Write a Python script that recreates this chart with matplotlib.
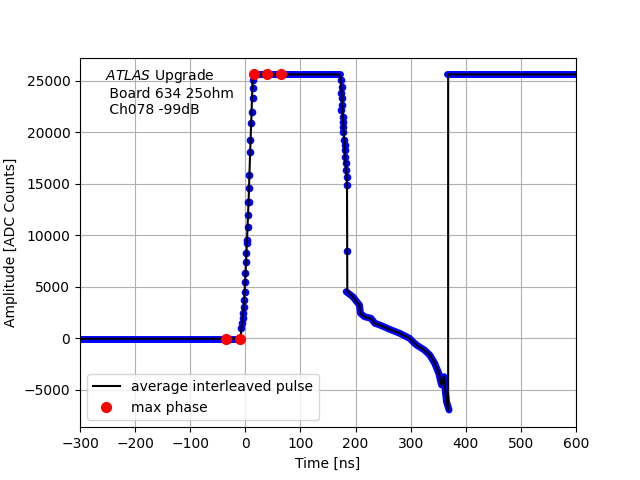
import numpy as np
import matplotlib
matplotlib.use('Agg')
import matplotlib.pyplot as plt

# average interleaved pulse (black line)
pulse_t = [-300, -9, -6, -3, 0, 3, 6, 9, 11, 13, 14,
           170, 173, 175, 177, 179, 181, 183, 184.5, 185,
           195, 207, 209, 216, 228, 235, 244, 262, 280, 298, 307, 312, 325, 334.5,
           343.6, 351, 356, 360.6, 363, 365, 368, 368, 600]
pulse_v = [-50, -50, 1500, 3000, 6000, 9500, 13500, 18500, 21500, 24800, 25620,
           25620, 25300, 23500, 21500, 19500, 17500, 16000, 14900, 4600,
           4000, 3200, 2400, 2100, 1900, 1450, 1280, 870, 490, 0, -490, -700, -1140, -1620,
           -2430, -3400, -4530, -3730, -5180, -6150, -7000, 25620, 25620]

# interleaved samples on the steep edges (blue dots)
edge_t = [-7.9, -6.6, -4.8, -3.6, -3.0, -1.8, -0.6, 0.0, 0.0, 1.2, 1.8, 2.4, 3.0,
          4.2, 4.3, 5.5, 6.1, 6.7, 7.3, 9.1, 9.1, 10.9, 12.1, 13.3, 13.3, 13.3,
          174, 175, 174, 175, 175, 174, 177, 178, 178, 177, 178.7, 180, 180,
          181.3, 181.8, 183, 185, 185, 184.5]
edge_v = [970, 1460, 1940, 2430, 3070, 3720, 4520, 5500, 6310, 7440, 8250, 9220, 9540,
          10840, 11970, 13260, 13260, 14560, 15850, 18120, 19250, 20870, 22000, 23300, 24270, 25080,
          25080, 24430, 23790, 23300, 22650, 22170, 21510, 21030, 20540, 20060, 19250, 18770, 18280,
          17630, 16990, 16340, 15690, 14880, 8500]

# dense sample bands (blue), flat parts and slow tail
base_t = [-300, -9]
base_v = [-60, -60]
top_t = [14, 171]
top_v = [25620, 25620]
tail_t = [183, 195, 207, 209, 216, 228, 235, 244, 262, 280, 298, 307, 312, 325, 334.5,
          343.6, 351, 356, 360.6, 363, 365, 369.7]
tail_v = [4530, 4040, 3230, 2430, 2100, 1940, 1460, 1290, 870, 490, 0, -490, -700, -1140, -1620,
          -2430, -3400, -4530, -3730, -5180, -6150, -6960]
right_t = [366, 600]
right_v = [25620, 25620]

# max phase samples (red)
max_t = [-35, -10, 15, 40, 65]
max_v = [-50, -50, 25620, 25620, 25620]

fig, ax = plt.subplots(figsize=(6.4, 4.8), dpi=100)

for bt, bv in [(base_t, base_v), (top_t, top_v), (tail_t, tail_v), (right_t, right_v)]:
    ax.plot(bt, bv, '-', color='blue', lw=5, solid_capstyle='round', solid_joinstyle='round')
ax.plot(edge_t, edge_v, 'o', color='blue', ms=4.5, ls='none')
ax.plot(pulse_t, pulse_v, '-', color='black', lw=1.5, label='average interleaved pulse')
ax.plot(max_t, max_v, 'o', color='red', ms=7, ls='none', label='max phase')

ax.text(0.05, 0.975, '$ATLAS$ Upgrade\n Board 634 25ohm\n Ch078 -99dB',
        transform=ax.transAxes, va='top', ha='left', fontsize=10)

ax.set_xlim(-300, 600)
ax.set_xlabel('Time [ns]')
ax.set_ylabel('Amplitude [ADC Counts]')
ax.grid(True)
ax.legend(loc='lower left')

plt.savefig('out.png', dpi=100)
